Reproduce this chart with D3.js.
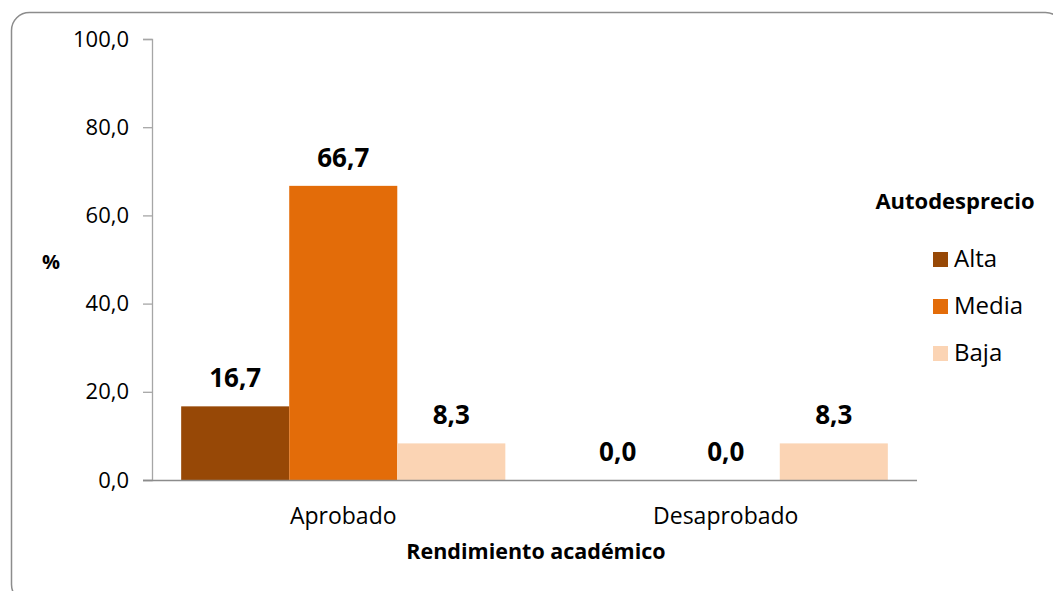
<!DOCTYPE html>
<html>
<head>
<meta charset="utf-8">
<script src="https://cdn.jsdelivr.net/npm/d3@7"></script>
<style>
  body { margin: 0; background: #fff; }
  text { font-family: "Open Sans", "Noto Sans", sans-serif; fill: #000; }
</style>
</head>
<body>
<div id="chart"></div>
<script>
// data
var categories = ["Aprobado", "Desaprobado"];
var levels = ["Alta", "Media", "Baja"];
var alta = [16.7, 0.0];
var media = [66.7, 0.0];
var baja = [8.3, 8.3];
var yTicks = [0, 20, 40, 60, 80, 100];

var colors = ["#974806", "#E36C09", "#FBD4B4"];
var series = [alta, media, baja];

var width = 1053, height = 591;

var svg = d3.select("#chart")
  .append("svg")
    .attr("width", width)
    .attr("height", height);

// outer border
svg.append("rect")
  .attr("x", 11.5).attr("y", 12.5)
  .attr("width", 1052).attr("height", 590)
  .attr("rx", 18).attr("ry", 18)
  .style("fill", "#fff")
  .style("stroke", "#8c8c8c")
  .style("stroke-width", 1.5);

var plot = {left: 152, right: 917, top: 39, bottom: 480};

// scales
var x0 = d3.scaleBand()
  .domain(categories)
  .range([plot.left, plot.right])
  .padding(0);

var x1 = d3.scaleBand()
  .domain(levels)
  .range([0, x0.bandwidth()])
  .paddingInner(0)
  .paddingOuter(0.27);

var y = d3.scaleLinear()
  .domain([0, 100])
  .range([plot.bottom, plot.top]);

var fmt = function(v) { return d3.format(".1f")(v).replace(".", ","); };

// Y axis
var yAxis = svg.append("g")
  .attr("transform", "translate(" + plot.left + ",0)")
  .call(d3.axisLeft(y).tickValues(yTicks).tickSize(9).tickPadding(14).tickFormat(fmt));
yAxis.select(".domain").attr("stroke", "#a6a6a6").attr("stroke-width", 1.3);
yAxis.selectAll(".tick line").attr("stroke", "#a6a6a6").attr("stroke-width", 1.3);
yAxis.selectAll(".tick text")
  .style("font-size", "22px")
  .style("font-family", "'Open Sans', sans-serif")
  .attr("fill", "#000");

// bars
var rows = categories.map(function(c, i) {
  return levels.map(function(l, j) { return {cat: c, level: l, value: series[j][i], color: colors[j]}; });
});

var groups = svg.selectAll("g.grp")
  .data(rows)
  .enter()
  .append("g")
    .attr("class", "grp")
    .attr("transform", function(d, i) { return "translate(" + x0(categories[i]) + ",0)"; });

groups.selectAll("rect")
  .data(function(d) { return d; })
  .enter()
  .append("rect")
    .attr("x", function(d) { return x1(d.level); })
    .attr("y", function(d) { return y(d.value); })
    .attr("width", x1.bandwidth())
    .attr("height", function(d) { return y(0) - y(d.value); })
    .style("fill", function(d) { return d.color; });

groups.selectAll("text.lbl")
  .data(function(d) { return d; })
  .enter()
  .append("text")
    .attr("class", "lbl")
    .attr("x", function(d) { return x1(d.level) + x1.bandwidth() / 2; })
    .attr("y", function(d) { return y(d.value) - 19; })
    .attr("text-anchor", "middle")
    .style("font-size", "26px")
    .style("font-weight", "bold")
    .text(function(d) { return fmt(d.value); });

// X axis line
svg.append("line")
  .attr("x1", plot.left - 9).attr("x2", plot.right)
  .attr("y1", plot.bottom + 0.5).attr("y2", plot.bottom + 0.5)
  .attr("stroke", "#8c8c8c").attr("stroke-width", 1.3);

// category labels
svg.selectAll("text.cat")
  .data(categories)
  .enter()
  .append("text")
    .attr("class", "cat")
    .attr("x", function(d) { return x0(d) + x0.bandwidth() / 2; })
    .attr("y", 524)
    .attr("text-anchor", "middle")
    .style("font-size", "23px")
    .text(function(d) { return d; });

// axis titles
svg.append("text")
  .attr("x", 536).attr("y", 559)
  .attr("text-anchor", "middle")
  .style("font-size", "21.5px")
  .style("font-weight", "bold")
  .text("Rendimiento académico");

svg.append("text")
  .attr("x", 51).attr("y", 269)
  .attr("text-anchor", "middle")
  .style("font-size", "20px")
  .style("font-weight", "bold")
  .text("%");

// legend
svg.append("text")
  .attr("x", 955).attr("y", 209)
  .attr("text-anchor", "middle")
  .style("font-size", "22px")
  .style("font-weight", "bold")
  .text("Autodesprecio");

var legend = svg.selectAll("g.leg")
  .data(levels)
  .enter()
  .append("g")
    .attr("class", "leg")
    .attr("transform", function(d, i) { return "translate(933," + (259 + i * 47) + ")"; });

legend.append("rect")
  .attr("x", 0).attr("y", -7)
  .attr("width", 15).attr("height", 15)
  .style("fill", function(d, i) { return colors[i]; });

legend.append("text")
  .attr("x", 21).attr("y", 8)
  .style("font-size", "24px")
  .text(function(d) { return d; });
</script>
</body>
</html>
